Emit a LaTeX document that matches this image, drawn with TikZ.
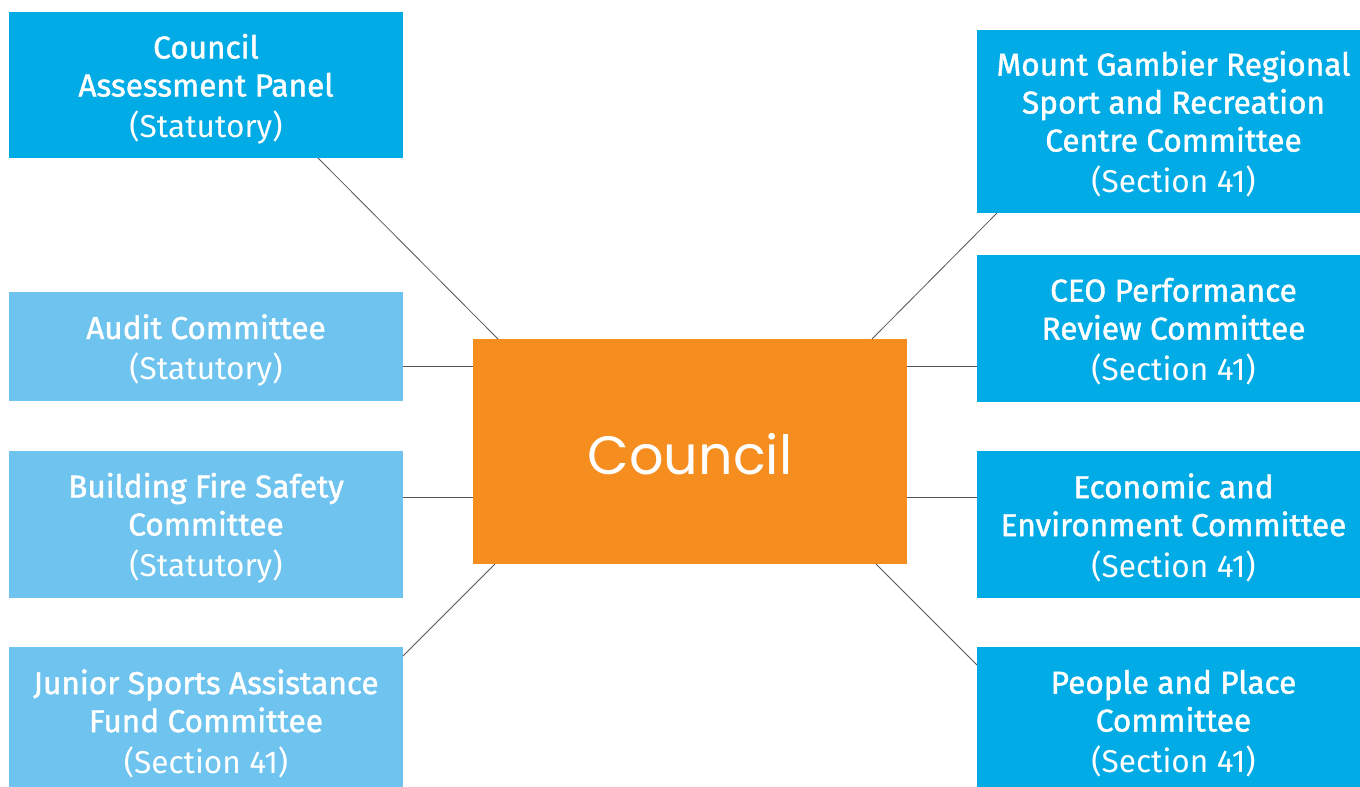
\documentclass[tikz,border=0pt]{standalone}
\usepackage{fontspec}
\setmainfont{Fira Sans}
\newfontfamily\boxbold{Fira Sans}[FakeBold=1.4]
\newfontfamily\boxlight{Fira Sans}
\newfontfamily\centerfont{Poppins}
\definecolor{darkblue}{HTML}{00ABE6}
\definecolor{lightblue}{HTML}{6EC4EE}
\definecolor{councilorange}{HTML}{F58D1F}
\definecolor{linegray}{HTML}{555555}
\newcommand{\lt}[1]{{\boxlight #1}}
\begin{document}
\begin{tikzpicture}[x=1pt,y=-1pt,
  boxbase/.style={rectangle,inner sep=0pt,outer sep=0pt,text=white,align=center},
  dbox/.style={boxbase,fill=darkblue},
  lbox/.style={boxbase,fill=lightblue},
  lbl/.style={text=white,align=center,font=\boxbold\fontsize{31.6}{38}\selectfont,inner sep=0pt},
  conn/.style={draw=linegray,line width=0.8pt}]
\useasboundingbox (0,0) rectangle (1360,787);
% left boxes
\node[dbox,minimum width=394pt,minimum height=146pt] (cap) at (206,85) {};
\node[lbl] at ([yshift=-4pt]cap.center) {Council\\Assessment Panel\\[3pt]\lt{(Statutory)}};
\node[lbox,minimum width=394pt,minimum height=109pt] (audit) at (206,346.5) {};
\node[lbl] at ([yshift=-4pt]audit.center) {Audit Committee\\[3pt]\lt{(Statutory)}};
\node[lbox,minimum width=394pt,minimum height=147pt] (fire) at (206,524.5) {};
\node[lbl] at ([yshift=-3.5pt]fire.center) {Building Fire Safety\\Committee\\[3pt]\lt{(Statutory)}};
\node[lbox,minimum width=394pt,minimum height=140pt] (junior) at (206,717) {};
\node[lbl] at ([yshift=-6.5pt]junior.center) {Junior Sports Assistance\\Fund Committee\\[3pt]\lt{(Section 41)}};
% right boxes
\node[dbox,minimum width=383pt,minimum height=183pt] (mg) at (1168.5,121.5) {};
\node[lbl] at ([xshift=5pt,yshift=-2.5pt]mg.center) {Mount Gambier Regional\\Sport and Recreation\\Centre Committee\\[3pt]\lt{(Section 41)}};
\node[dbox,minimum width=383pt,minimum height=147pt] (ceo) at (1168.5,328.5) {};
\node[lbl] at ([xshift=5pt,yshift=-3pt]ceo.center) {CEO Performance\\Review Committee\\[3pt]\lt{(Section 41)}};
\node[dbox,minimum width=383pt,minimum height=147pt] (econ) at (1168.5,524.5) {};
\node[lbl] at ([xshift=5pt,yshift=-3pt]econ.center) {Economic and\\Environment Committee\\[3pt]\lt{(Section 41)}};
\node[dbox,minimum width=383pt,minimum height=140pt] (people) at (1168.5,717) {};
\node[lbl] at ([xshift=5pt,yshift=-6.5pt]people.center) {People and Place\\Committee\\[3pt]\lt{(Section 41)}};
% council
\node[boxbase,fill=councilorange,minimum width=434pt,minimum height=225pt] (council) at (690,451.5) {};
\node[text=white,inner sep=0pt,font=\centerfont\fontsize{54}{60}\selectfont] (ctext) at ([yshift=-3pt]council.center) {Council};
% connectors
\coordinate (ya) at (0,366);
\coordinate (yb) at (0,497);
\draw[conn] ([xshift=309pt]cap.south west) -- ([xshift=25pt]council.north west);
\draw[conn] (audit.east |- ya) -- (council.west |- ya);
\draw[conn] (fire.east |- yb) -- (council.west |- yb);
\draw[conn] ([yshift=-9pt]junior.north east) -- ([xshift=22pt]council.south west);
\draw[conn] ([xshift=20pt]mg.south west) -- ([xshift=-35pt]council.north east);
\draw[conn] (ceo.west |- ya) -- (council.east |- ya);
\draw[conn] (econ.west |- yb) -- (council.east |- yb);
\draw[conn] ([yshift=-18pt]people.north west) -- ([xshift=-31pt]council.south east);
\end{tikzpicture}
\end{document}
